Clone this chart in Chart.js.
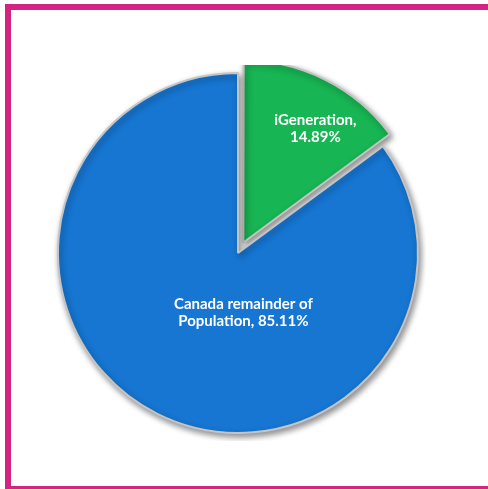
<!DOCTYPE html>
<html>
<head>
<meta charset="utf-8">
<script src="https://cdn.jsdelivr.net/npm/chart.js@4"></script>
<style>
  html, body { margin: 0; padding: 0; background: #ffffff; width: 488px; height: 489px; overflow: hidden; }
  #frame { position: absolute; left: 5px; top: 4px; width: 500px; height: 488px; box-sizing: border-box; border: 6px solid #d42483; }
  #wrap { position: absolute; left: 50px; top: 65px; width: 376px; height: 376px; }
</style>
</head>
<body>
<div id="frame"></div>
<div id="wrap"><canvas id="c" width="376" height="376"></canvas></div>
<script>
const categories = ["iGeneration", "Canada remainder of Population"];
const values = [14.89, 85.11];
const labelLines = [["iGeneration,", "14.89%"], ["Canada remainder of", "Population, 85.11%"]];
const sliceColors = ["#17b553", "#1676d2"];
const rimColors = ["#0d8a3b", "#0e55a0"];
const explode = [47, 0];

function grad(ctx, i) {
  const chart = ctx.chart;
  const meta = chart.getDatasetMeta(0);
  const arc = meta.data[i];
  if (!arc || !arc.outerRadius) return sliceColors[i];
  const c = chart.ctx;
  const cx = arc.x, cy = arc.y;
  const r = arc.outerRadius;
  const g = c.createRadialGradient(cx, cy, 0, cx, cy, r);
  g.addColorStop(0, sliceColors[i]);
  g.addColorStop(0.9, sliceColors[i]);
  g.addColorStop(0.965, rimColors[i]);
  g.addColorStop(1, rimColors[i]);
  return g;
}

const shadowPlugin = {
  id: 'shadow',
  beforeDatasetsDraw(chart) {
    const c = chart.ctx;
    c.save();
    c.shadowColor = 'rgba(0,0,0,0.45)';
    c.shadowBlur = 6;
    c.shadowOffsetX = 2;
    c.shadowOffsetY = 3;
  },
  afterDatasetsDraw(chart) {
    chart.ctx.restore();
  }
};

const labelPos = [[0.43, -0.69], [0.03, 0.33]];
const labelPlugin = {
  id: 'sliceLabels',
  afterDraw(chart) {
    const c = chart.ctx;
    const meta = chart.getDatasetMeta(0);
    c.save();
    c.fillStyle = '#ffffff';
    c.font = 'bold 15px Lato, "Open Sans", sans-serif';
    c.textAlign = 'center';
    c.textBaseline = 'middle';
    meta.data.forEach((arc, i) => {
      const R = arc.outerRadius;
      const x = arc.x + labelPos[i][0] * R;
      const y = arc.y + labelPos[i][1] * R;
      const lines = labelLines[i];
      const lh = 17;
      lines.forEach((t, k) => {
        c.fillText(t, x, y + (k - (lines.length - 1) / 2) * lh);
      });
    });
    c.restore();
  }
};

new Chart(document.getElementById('c'), {
  type: 'pie',
  data: {
    labels: categories,
    datasets: [{
      data: values,
      backgroundColor: (ctx) => grad(ctx, ctx.dataIndex),
      borderColor: '#c4c4c4',
      borderWidth: 2,
      offset: explode,
      radius: 180
    }]
  },
  options: {
    responsive: false,
    animation: false,
    layout: { padding: 0 },
    plugins: { legend: { display: false }, tooltip: { enabled: false } }
  },
  plugins: [shadowPlugin, labelPlugin]
});
</script>
</body>
</html>
